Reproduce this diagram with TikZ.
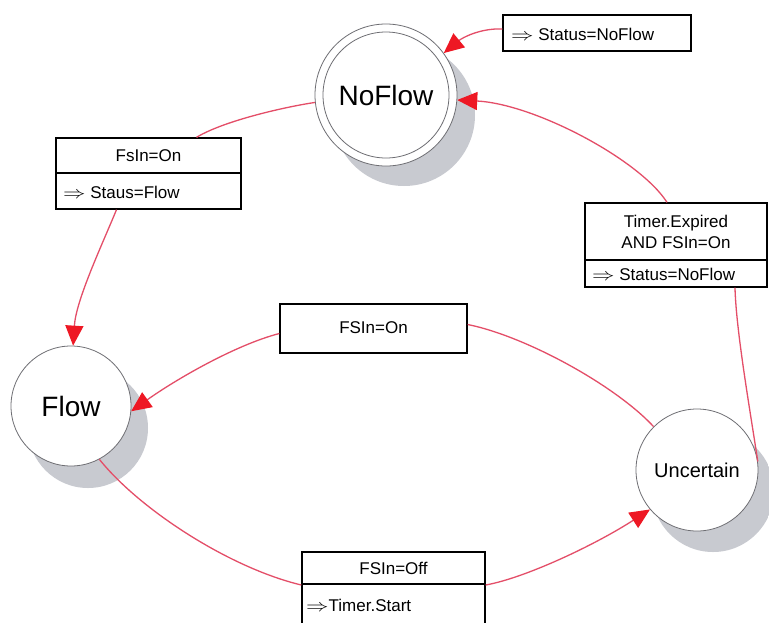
\documentclass[tikz,border=0pt]{standalone}
\usepackage{fontspec}
\usepackage{graphicx}
\setmainfont{Liberation Sans}
\usetikzlibrary{arrows.meta}

\definecolor{linkred}{RGB}{228,78,104}
\definecolor{tipred}{RGB}{238,24,36}
\definecolor{rimgray}{RGB}{110,110,115}
\definecolor{shadelight}{RGB}{200,202,208}
\definecolor{shademid}{RGB}{165,167,175}
\definecolor{shadedark}{RGB}{115,117,125}

% soft disc drawn behind each state
\pgfdeclareradialshading{statedrop}{\pgfpoint{0bp}{0bp}}{%
  color(0bp)=(shadelight); color(30bp)=(shadelight); color(42bp)=(shademid); color(50bp)=(shadedark)}

\newcommand{\actarrow}{\scalebox{1.3}[1]{$\Rightarrow$}}

\begin{document}
\begin{tikzpicture}[x=1pt, y=-1pt,
  statenode/.style={circle, draw=rimgray, line width=0.8pt, fill=white, inner sep=0pt},
  bigname/.style={font=\fontsize{28}{32}\selectfont},
  labelbox/.style={draw=black, line width=1.3pt, fill=white, inner sep=0pt},
  boxtext/.style={font=\fontsize{17}{21}\selectfont, inner sep=0pt, align=center},
  divider/.style={draw=black, line width=1.3pt},
  link/.style={draw=linkred, line width=1.3pt},
  arrowlink/.style={link, -{Triangle[length=20pt, width=18pt, color=tipred]}},
]
\useasboundingbox (0,0) rectangle (769,622);
\fill[white] (0,0) rectangle (769,622);

% drop discs
\shade[shading=statedrop] (404,115) circle[radius=71pt];
\shade[shading=statedrop] (88,428) circle[radius=60pt];
\shade[shading=statedrop] (713,491) circle[radius=61pt];

% states
\node[statenode, minimum size=142pt, bigname] (noflow) at (386,95) {NoFlow};
\draw[rimgray, line width=0.8pt] (noflow.center) circle[radius=63pt];
\node[statenode, minimum size=120pt, bigname] (flow) at (71,406) {Flow};
\node[statenode, minimum size=122pt, font=\fontsize{20}{24}\selectfont] (uncertain) at (697,470) {Uncertain};

% transition label boxes
\node[labelbox, minimum width=188pt, minimum height=36pt] (status) at (597,33) {};
\node[boxtext, anchor=west] (statusact) at (511,34) {\actarrow\ Status=NoFlow};

\node[labelbox, minimum width=185pt, minimum height=71pt] (fsin) at (148.5,173.5) {};
\draw[divider] (56,173) -- (241,173);
\node[boxtext] (fsincond) at (148.5,156) {FsIn=On};
\node[boxtext, anchor=west] (fsinact) at (63,192) {\actarrow\ Staus=Flow};

\node[labelbox, minimum width=182pt, minimum height=84pt] (timer) at (676,245) {};
\draw[divider] (585,260) -- (767,260);
\node[boxtext] (timercond) at (676,232) {Timer.Expired\\AND FSIn=On};
\node[boxtext, anchor=west] (timeract) at (592,274) {\actarrow\ Status=NoFlow};

\node[labelbox, minimum width=187pt, minimum height=49pt] (middle) at (373.5,328.5) {};
\node[boxtext] (middlecond) at (373.5,328) {FSIn=On};

\node[labelbox, minimum width=183pt, minimum height=76pt] (fsinoff) at (393.5,590) {};
\draw[divider] (302,584) -- (485,584);
\node[boxtext] (offcond) at (393.5,568) {FSIn=Off};
\node[boxtext, anchor=west] (offact) at (306,605) {\actarrow Timer.Start};

% transitions
\draw[link] (noflow.186) .. controls (290,106) and (225,120) .. ([xshift=48pt]fsin.north);
\draw[arrowlink] ([xshift=-32pt]fsin.south) .. controls (102,245) and (76,300) .. (flow.88);

\draw[arrowlink] ([yshift=4pt]status.west) .. controls (480,28) and (462,38) .. (noflow.36);

\draw[link] (uncertain.8) .. controls (750,410) and (736,330) .. ([xshift=59pt]timer.south);
\draw[arrowlink] ([xshift=-9pt]timer.north) .. controls (640,160) and (535,104) .. (noflow.-4);

\draw[link] (uncertain.135) .. controls (615,385) and (525,336) .. ([yshift=4pt]middle.east);
\draw[arrowlink] ([yshift=-5pt]middle.west) .. controls (235,345) and (175,380) .. (flow.-5);

\draw[link] (flow.-62) .. controls (140,510) and (230,568) .. ([yshift=5pt]fsinoff.west);
\draw[arrowlink] ([yshift=5pt]fsinoff.east) .. controls (525,578) and (595,545) .. (uncertain.220);
\end{tikzpicture}
\end{document}
